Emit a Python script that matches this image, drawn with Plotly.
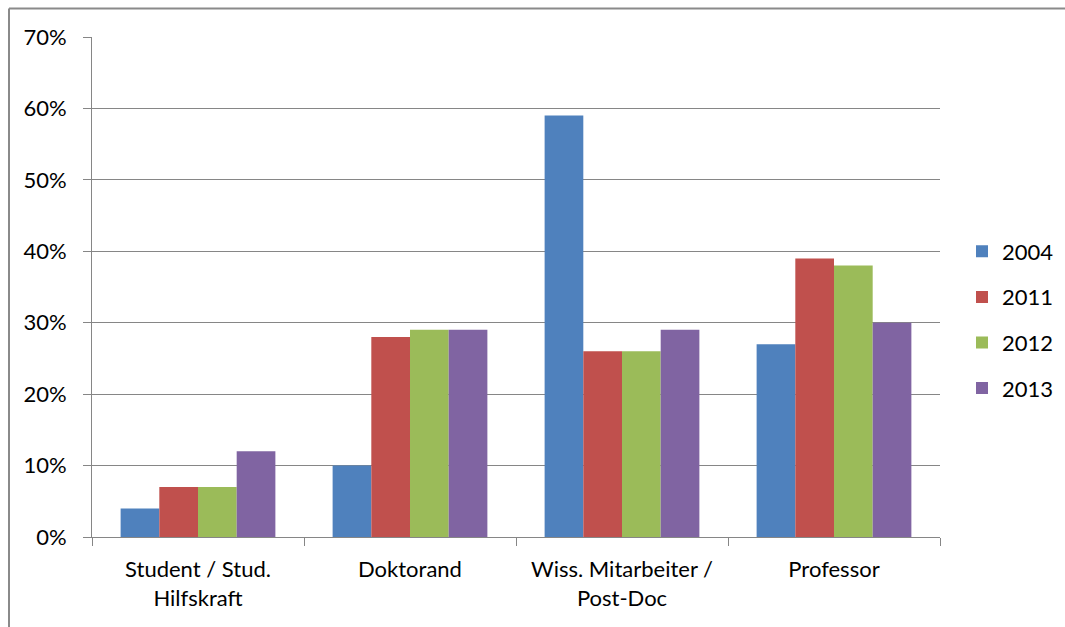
import plotly.graph_objects as go

categories = ["Student / Stud.<br>Hilfskraft", "Doktorand", "Wiss. Mitarbeiter /<br>Post-Doc", "Professor"]
years = ["2004", "2011", "2012", "2013"]
v2004 = [0.04, 0.10, 0.59, 0.27]
v2011 = [0.07, 0.28, 0.26, 0.39]
v2012 = [0.07, 0.29, 0.26, 0.38]
v2013 = [0.12, 0.29, 0.29, 0.30]
series = [v2004, v2011, v2012, v2013]
colors = ["#4F81BD", "#C0504D", "#9BBB59", "#8064A2"]

fig = go.Figure()
for i, (name, vals) in enumerate(zip(years, series)):
    fig.add_trace(go.Bar(x=categories, y=vals, name=name, marker_color=colors[i],
                         marker_line_width=0, legendgroup=name))

L, R, T, B = 92, 125, 37, 90
W, H = 1065, 627
pw, ph = W - L - R, H - T - B

fig.update_layout(
    width=W, height=H,
    margin=dict(l=L, r=R, t=T, b=B, pad=0, autoexpand=False),
    paper_bgcolor="white", plot_bgcolor="white",
    barmode="group", bargap=0.27, bargroupgap=0,
    font=dict(family="Lato, Open Sans, sans-serif", size=22, color="black"),
    legend=dict(x=(962 - L) / pw, y=(T + ph - 320) / ph, xanchor="left", yanchor="middle",
                font=dict(size=22), tracegroupgap=14, itemwidth=30, bgcolor="rgba(0,0,0,0)"),
    showlegend=True,
)
fig.update_yaxes(range=[0, 0.7], dtick=0.1, tickformat=".0%", showgrid=True,
                 gridcolor="#868686", gridwidth=1, showline=True, linecolor="#868686",
                 linewidth=1, ticks="outside", ticklen=8, tickcolor="#868686",
                 ticklabelstandoff=12, zeroline=False, fixedrange=True)
fig.update_xaxes(showline=True, linecolor="#868686", linewidth=1, ticks="outside",
                 tickson="boundaries", ticklen=8, tickcolor="#868686", showgrid=False,
                 ticklabelstandoff=13, fixedrange=True)

# outer chart border (top and left edges visible)
bx0 = (9 - L) / pw
bx1 = (W + 20 - L) / pw
by0 = (T + ph - (H + 20)) / ph
by1 = (T + ph - 8.5) / ph
border = dict(color="#8a8a8a", width=2)
fig.add_shape(type="line", xref="paper", yref="paper", x0=bx0, x1=bx1, y0=by1, y1=by1,
              line=border, layer="below")
fig.add_shape(type="line", xref="paper", yref="paper", x0=bx0, x1=bx0, y0=by0, y1=by1,
              line=border, layer="below")

fig.write_html("out.html", config={"displayModeBar": False},
               post_script="document.body.style.margin='0';document.body.style.overflow='hidden';")
